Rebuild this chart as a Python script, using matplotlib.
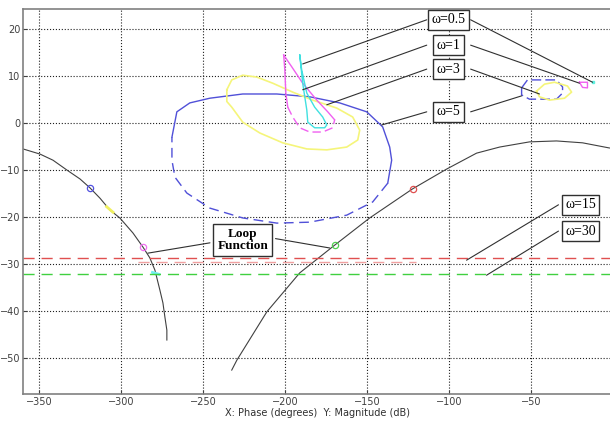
import numpy as np
import matplotlib
matplotlib.use("Agg")
import matplotlib.pyplot as plt

# loop function, two branches (phase deg, magnitude dB)
loop_left_phase = [-360, -349.6, -341.7, -333.2, -325.2, -319.1, -313.0, -307.0, -300.9, -292.9,
                   -286.8, -282.6, -279.5, -276.5, -274.6, -273.4, -272.2, -272.2]
loop_left_mag = [-5.5, -6.6, -7.9, -10.0, -11.9, -13.8, -16.0, -18.5, -20.2, -23.4,
                 -26.4, -28.7, -31.3, -35.5, -38.3, -41.3, -44.1, -46.2]
loop_right_phase = [-232.6, -229.5, -211.2, -191.1, -169.8, -148.4, -122.2, -101.5, -83.2,
                    -69.1, -50.9, -34.4, -18.5, -2.1]
loop_right_mag = [-52.6, -50.5, -40.2, -31.9, -26.0, -20.2, -14.0, -9.8, -6.4,
                  -5.1, -4.0, -3.8, -4.2, -5.3]

# frequency points marked on the loop
mark_phase = [-319.1, -286.8, -169.8, -122.2]
mark_mag = [-13.8, -26.4, -26.0, -14.0]
mark_colors = ["#5050e0", "#f070f0", "#50d050", "#e05050"]

# templates, big ones
t5_phase = [-269.1, -266.1, -258.2, -246.0, -225.9, -205.1, -185.0, -166.7, -150.2, -140.5,
            -136.2, -135.0, -137.4, -146.6, -162.4, -185.0, -205.1, -225.9, -246.0, -260.0,
            -267.3, -269.1, -269.1]
t5_mag = [-3.0, 2.4, 4.3, 5.3, 6.2, 6.2, 5.6, 4.3, 2.4, -0.8,
          -5.1, -7.9, -12.8, -16.8, -19.6, -21.1, -21.3, -20.2, -18.1, -14.9,
          -11.5, -7.9, -3.0]
t3_phase = [-235.6, -232.6, -225.9, -217.3, -207.6, -195.4, -183.2, -168.5, -158.8, -154.5,
            -155.7, -162.4, -174.6, -186.8, -201.5, -215.5, -225.9, -232.6, -235.6, -235.6]
t3_mag = [7.1, 9.2, 10.2, 9.8, 8.5, 6.6, 4.9, 3.2, 1.3, -1.5,
          -3.6, -5.1, -5.7, -5.5, -4.2, -2.1, 0.2, 3.4, 4.6, 7.1]
t1_phase = [-200.9, -200.2, -199.6, -198.4, -195.4, -191.1, -185.0, -177.1, -171.0, -169.8,
            -174.0, -180.7, -189.3, -196.0, -200.9]
t1_mag = [14.5, 11.3, 6.4, 3.4, 1.3, -1.0, -1.9, -1.9, -1.0, 0.7,
          2.4, 4.9, 8.5, 12.0, 14.5]
t05_phase = [-191.1, -189.9, -186.8, -182.0, -177.1, -174.6, -175.9, -182.0, -186.2, -186.8,
             -189.3, -191.1]
t05_mag = [14.5, 11.3, 6.4, 3.4, 1.3, -0.4, -1.0, -1.0, 0.2, 2.8,
           8.5, 14.5]

# templates, small ones (right side)
s5_phase = [-55.7, -52.1, -34.4, -30.7, -30.7, -34.4, -50.9, -55.7, -55.7]
s5_mag = [7.5, 9.2, 9.2, 7.7, 6.4, 5.1, 5.1, 6.0, 7.5]
s3_phase = [-46.6, -41.7, -35.6, -27.7, -25.2, -29.5, -38.7, -44.8, -46.6]
s3_mag = [6.8, 8.3, 8.7, 7.9, 6.6, 5.3, 4.9, 5.6, 6.8]
s1_phase = [-20.4, -15.5, -15.5, -18.5, -20.4]
s1_mag = [8.7, 8.7, 7.5, 7.6, 8.7]
s05_phase = [-12.4]
s05_mag = [8.7]

# high frequency bounds
b15_mag = -28.7
b15b_phase = [-290, -120]
b15b_mag = [-29.5, -29.5]
b30_mag = -32.2

# labels: text, box centre, leader targets
labels = ["ω=0.5", "ω=1", "ω=3", "ω=5"]
label_phase = -100.2
label_mag = [22.0, 16.6, 11.5, 2.4]
left_targets = [(-189.3, 12.6), (-189.3, 7.1), (-174.6, 3.9), (-141.1, -0.4)]
right_targets = [(-12.4, 8.7), (-20.4, 8.5), (-44.8, 6.2), (-55.7, 5.8)]

hf_labels = ["ω=15", "ω=30"]
hf_phase = -19.8
hf_mag = [-17.4, -23.0]
hf_targets = [(-89.3, -29.2), (-77.1, -32.4)]

loop_label = "Loop\nFunction"
loop_label_pos = (-225.9, -24.9)
loop_targets = [(-283.8, -27.7), (-172.8, -26.6)]

fig = plt.figure(figsize=(6.1, 4.21), dpi=100)
ax = fig.add_axes([0.0377, 0.0641, 0.967, 0.9145])

ax.plot(loop_left_phase, loop_left_mag, color="#404040", lw=0.8)
ax.plot(loop_right_phase, loop_right_mag, color="#404040", lw=0.8)
for p, m, c in zip(mark_phase, mark_mag, mark_colors):
    ax.plot(p, m, "o", ms=4.5, mfc="none", mec=c, mew=0.9)
ax.plot([-309, -305], [-17.8, -19.0], color="#f0f060", lw=2)
ax.plot([-281, -277], [-31.8, -32.2], color="#70f0f0", lw=2)

# bounds
ax.axhline(b15_mag, color="#e05050", lw=1.0, ls=(0, (8, 5)))
ax.plot(b15b_phase, b15b_mag, color="#f0a0a0", lw=1.0, ls=(0, (8, 5)))
ax.axhline(b30_mag, color="#40d040", lw=1.0, ls=(0, (8, 5)))

# big templates: upper part solid, lower part dashed
ax.plot(t5_phase[:13], t5_mag[:13], color="#5050d8", lw=1.0)
ax.plot(t5_phase[12:], t5_mag[12:], color="#5050d8", lw=1.0, ls=(0, (7, 4)))
ax.plot(t3_phase, t3_mag, color="#f5f57a", lw=1.2)
ax.plot(t1_phase[:4], t1_mag[:4], color="#f060f0", lw=1.0)
ax.plot(t1_phase[3:10], t1_mag[3:10], color="#f060f0", lw=1.0, ls=(0, (6, 3)))
ax.plot(t1_phase[9:], t1_mag[9:], color="#f060f0", lw=1.0)
ax.plot(t05_phase, t05_mag, color="#40e0e0", lw=1.0)

ax.plot(s5_phase, s5_mag, color="#5050d8", lw=1.0, ls=(0, (7, 3)))
ax.plot(s3_phase, s3_mag, color="#f5f57a", lw=1.2)
ax.plot(s1_phase, s1_mag, color="#f060f0", lw=1.0)
ax.plot(s05_phase, s05_mag, "s", ms=2, color="#60f0e0")

box = dict(boxstyle="square,pad=0.25", fc="white", ec="#303030", lw=1.0)
line = dict(arrowstyle="-", color="#303030", lw=0.8, shrinkA=0, shrinkB=0)
half_w = 13.4

for txt, m, lt, rt in zip(labels, label_mag, left_targets, right_targets):
    ax.annotate("", xy=lt, xytext=(label_phase - half_w, m), arrowprops=line)
    ax.annotate("", xy=rt, xytext=(label_phase + half_w, m), arrowprops=line)
    ax.text(label_phase, m, txt, ha="center", va="center", family="Liberation Serif",
            fontsize=10, bbox=box, zorder=5)
for txt, m, t in zip(hf_labels, hf_mag, hf_targets):
    ax.annotate("", xy=t, xytext=(hf_phase - half_w, m), arrowprops=line)
    ax.text(hf_phase, m, txt, ha="center", va="center", family="Liberation Serif",
            fontsize=10, bbox=box, zorder=5)

ax.annotate("", xy=loop_targets[0], xytext=(loop_label_pos[0] - 20, loop_label_pos[1] - 0.6), arrowprops=line)
ax.annotate("", xy=loop_targets[1], xytext=(loop_label_pos[0] + 20, loop_label_pos[1] + 0.3), arrowprops=line)
ax.text(loop_label_pos[0], loop_label_pos[1], loop_label, ha="center", va="center",
        family="Liberation Serif", fontsize=9.5, fontweight="bold", linespacing=1.1,
        bbox=dict(boxstyle="square,pad=0.3", fc="white", ec="#303030", lw=1.0), zorder=5)

ax.set_xlim(-360, 0)
ax.set_ylim(-57.7, 24.3)
ax.set_xticks(np.arange(-350, 1, 50))
ax.set_yticks(np.arange(-50, 21, 10))
ax.grid(True, color="#202020", ls=":", lw=0.8)
ax.tick_params(labelsize=7, colors="#404040", direction="in", length=3, pad=2)
for s in ax.spines.values():
    s.set_color("#808080")
    s.set_linewidth(1.2)
ax.set_xlabel("X: Phase (degrees)  Y: Magnitude (dB)", fontsize=7, color="#303030", labelpad=1)

fig.savefig("out.png", dpi=100)
